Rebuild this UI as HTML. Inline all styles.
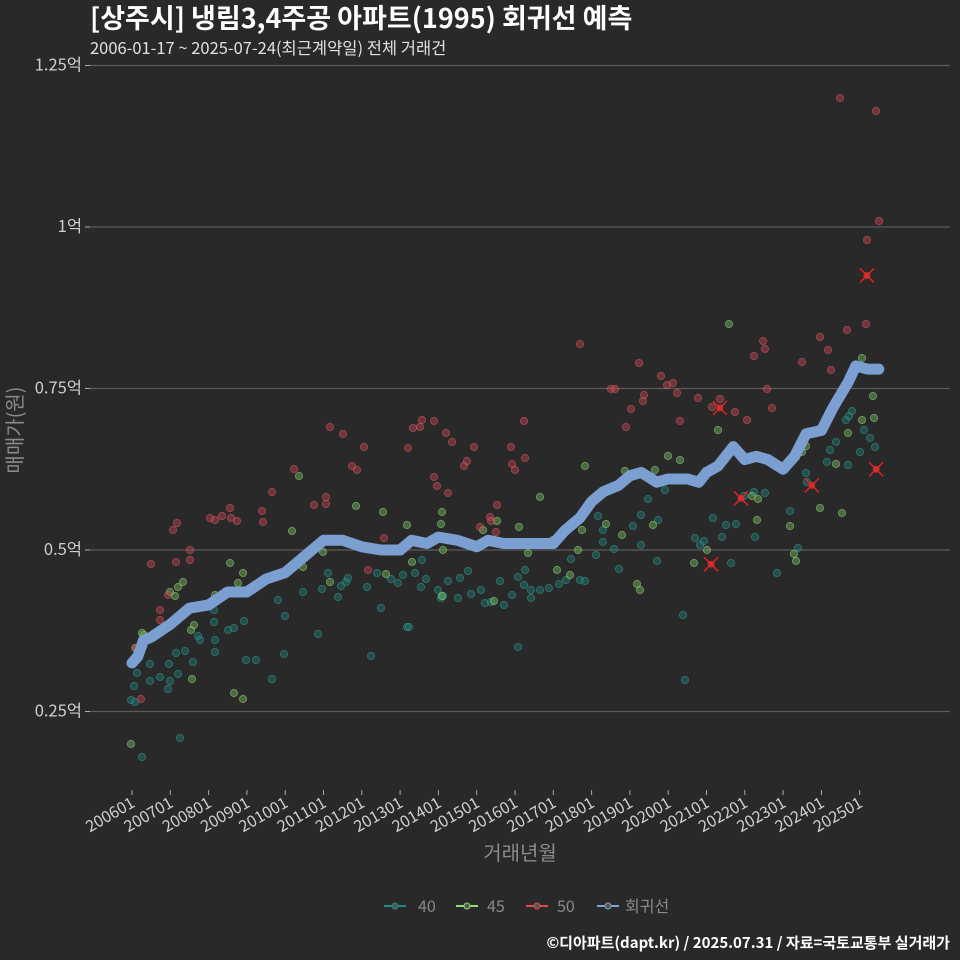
<!DOCTYPE html>
<html><head><meta charset="utf-8"><style>
body{margin:0;background:#2a292a;}
svg{display:block;font-family:"Noto Sans CJK KR","Liberation Sans",sans-serif;}
</style></head><body>
<svg id="chart" width="960" height="960" viewBox="0 0 960 960" xmlns="http://www.w3.org/2000/svg">
<rect width="960" height="960" fill="#2a292a"/>
<text x="90" y="28" fill="#ffffff" font-size="27" font-weight="bold">[상주시] 냉림3,4주공 아파트(1995) 회귀선 예측</text>
<text x="90" y="54" fill="#e0e0e0" font-size="16.5">2006-01-17 ~ 2025-07-24(최근계약일) 전체 거래건</text>
<g id="grid"></g><g id="yaxis"></g><g id="xaxis"></g><g id="pts"></g><g id="reg"></g><g id="cross"></g>
<text transform="translate(22,430) rotate(-90)" text-anchor="middle" fill="#8a8a8a" font-size="20">매매가(원)</text>
<text x="520" y="860" text-anchor="middle" fill="#8a8a8a" font-size="20">거래년월</text>
<g id="legend"></g>
<text x="950" y="948" text-anchor="end" fill="#ffffff" font-size="15" font-weight="bold">©디아파트(dapt.kr) / 2025.07.31 / 자료=국토교통부 실거래가</text>
</svg>
<script>
const yTicks=[0.25,0.5,0.75,1,1.25];
const yTickLabels=["0.25억","0.5억","0.75억","1억","1.25억"];
const xTickYears=[2006,2007,2008,2009,2010,2011,2012,2013,2014,2015,2016,2017,2018,2019,2020,2021,2022,2023,2024,2025];
const xTickLabels=["200601","200701","200801","200901","201001","201101","201201","201301","201401","201501","201601","201701","201801","201901","202001","202101","202201","202301","202401","202501"];
const regYears=[2006.0,2006.15,2006.3,2006.5,2007.0,2007.5,2008.0,2008.5,2009.0,2009.5,2010.0,2010.5,2011.0,2011.5,2012.0,2012.5,2013.0,2013.3,2013.7,2014.0,2014.5,2015.0,2015.3,2015.7,2016.0,2016.5,2017.0,2017.3,2017.7,2018.0,2018.3,2018.7,2019.0,2019.3,2019.7,2020.0,2020.5,2020.8,2021.0,2021.3,2021.7,2022.0,2022.3,2022.6,2023.0,2023.3,2023.6,2024.0,2024.3,2024.7,2024.9,2025.2,2025.5];
const regValues=[0.325,0.335,0.36,0.365,0.385,0.41,0.415,0.435,0.435,0.455,0.465,0.49,0.515,0.515,0.505,0.5,0.5,0.515,0.51,0.52,0.515,0.505,0.515,0.51,0.51,0.51,0.51,0.53,0.55,0.575,0.59,0.6,0.615,0.62,0.605,0.61,0.61,0.605,0.62,0.63,0.66,0.64,0.645,0.64,0.625,0.645,0.68,0.685,0.72,0.76,0.785,0.78,0.78];
const g40x=[131,134,135,142,137,150,150,160,170,168,169,176,180,178,185,193,198,200,215,214,214,215,228,234,244,246,256,272,284,278,285,294,303,318,322,328,338,341,346,348,360,367,371,377,381,391,398,403,407,409,415,421,422,426,438,441,443,448,458,460,468,471,481,485,491,500,504,512,518,518,524,525,531,531,540,549,559,566,571,580,585,596,598,603,603,614,619,633,641,641,648,657,658,665,683,685,695,700,704,713,722,726,731,736,744,754,755,765,777,790,798,806,807,827,830,836,846,848,849,852,860,864,870,875];
const g40y=[700,686,702,757,673,664,681,677,681,689,664,653,738,674,651,662,636,640,640,622,610,652,630,628,621,660,660,679,654,600,616,566,592,634,589,573,597,586,582,578,545,587,656,573,608,579,583,575,627,627,573,587,560,579,590,598,596,581,598,578,571,594,590,603,602,581,605,595,647,577,585,570,590,598,590,588,584,580,559,580,581,555,516,530,542,549,569,526,515,545,499,561,520,490,615,680,538,545,541,518,537,525,563,524,496,492,537,493,573,511,548,473,482,462,450,442,420,465,416,411,452,430,438,447];
const g45x=[131,136,142,144,170,175,178,183,192,191,194,215,230,234,243,243,238,292,299,303,323,330,356,383,386,407,412,442,441,443,442,483,497,494,519,528,540,553,557,570,578,582,585,606,625,622,637,640,655,653,668,680,694,707,718,729,752,758,757,790,794,796,802,806,820,836,842,848,862,862,873,874];
const g45y=[744,648,633,635,592,596,587,582,679,630,625,595,563,693,699,573,583,531,476,567,552,582,506,512,574,525,562,512,524,550,596,530,521,601,527,553,497,540,570,575,550,530,466,524,471,535,584,590,470,525,456,460,563,550,430,324,496,499,520,526,554,561,452,446,508,464,513,433,358,420,396,418];
const g50x=[135,141,151,160,160,168,173,177,176,190,190,210,215,222,230,231,237,262,263,272,294,314,326,326,330,343,352,357,364,368,384,408,413,420,422,434,434,437,446,448,452,464,467,474,480,490,491,496,497,511,512,515,524,525,580,611,615,626,631,639,643,644,647,661,667,673,677,680,698,712,720,735,747,754,763,765,767,772,802,820,828,831,840,847,867,866,876,879];
const g50y=[648,699,564,610,620,595,530,523,562,550,560,518,520,516,508,518,521,511,522,492,469,505,504,497,427,434,466,470,447,570,538,448,428,427,420,421,477,486,433,493,442,466,461,447,527,517,521,532,505,447,464,470,421,458,344,389,389,427,409,363,401,395,475,376,385,383,393,421,398,407,399,412,420,356,341,349,389,408,362,337,350,370,98,330,240,324,111,221];
const toYear=x=>2006+(x-132)/38.3, toVal=y=>0.5+(550-y)/646;
const g40Years=g40x.map(toYear), g40Values=g40y.map(toVal);
const g45Years=g45x.map(toYear), g45Values=g45y.map(toVal);
const g50Years=g50x.map(toYear), g50Values=g50y.map(toVal);
const crossYears=[2021.12,2021.35,2021.9,2023.75,2025.19,2025.43];
const crossValues=[0.478,0.72,0.58,0.6,0.925,0.625];
const X=v=>132+(v-2006)*38.3;
const Y=v=>550-(v-0.5)*646;
const NS="http://www.w3.org/2000/svg";
function mk(t,p,parent){const e=document.createElementNS(NS,t);for(const k in p)e.setAttribute(k,p[k]);document.getElementById(parent).appendChild(e);return e;}
yTicks.forEach((t,i)=>{
 const l=mk('line',{x1:90,x2:950,y1:Y(t),y2:Y(t),stroke:'#5c5c5c','stroke-width':1.2},'grid');
 
 
 const tk=mk('line',{x1:85,x2:90,y1:Y(t),y2:Y(t),stroke:'#aaa'},'yaxis');
 
 
 const tx=mk('text',{x:82,y:Y(t)+5,'text-anchor':'end',fill:'#d0d0d0','font-size':16.5},'yaxis');
 
 
 tx.textContent=yTickLabels[i];
});
xTickYears.forEach((t,i)=>{
 const tk=mk('line',{x1:X(t),x2:X(t),y1:790,y2:795,stroke:'#aaa'},'xaxis');
 
 
 const tx=mk('text',{transform:`translate(${X(t)+4},806) rotate(-30)`,'text-anchor':'end',fill:'#d0d0d0','font-size':16},'xaxis');
 
 
 tx.textContent=xTickLabels[i];
});
function drawPts(xs,vs,fill,stroke,name){
 xs.forEach((x,i)=>{
  const c=mk('circle',{cx:X(x),cy:Y(vs[i]),r:3.6,fill:fill,'fill-opacity':0.45,stroke:stroke,'stroke-opacity':0.5,'stroke-width':1},'pts');
  
  
 });
}
drawPts(g40Years,g40Values,'#1e7a74','#2fa59c','point-40');
drawPts(g45Years,g45Values,'#6fb85a','#9ee07f','point-45');
drawPts(g50Years,g50Values,'#c0444c','#e0606a','point-50');
const reg=mk('polyline',{points:regYears.map((y,i)=>X(y)+','+Y(regValues[i])).join(' '),fill:'none',stroke:'#7b9fd0','stroke-width':11,'stroke-linejoin':'round','stroke-linecap':'round'},'reg');


crossYears.forEach((y,i)=>{
 const cx=X(y),cy=Y(crossValues[i]);
 const p=mk('path',{d:`M${cx-7},${cy-7}L${cx+7},${cy+7}M${cx+7},${cy-7}L${cx-7},${cy+7}`,stroke:'#e02020','stroke-width':1.5},'cross');
 
 
 const c=mk('circle',{cx:cx,cy:cy,r:3.5,fill:'#e03030','fill-opacity':0.8},'cross');
 
 
});
const legendItems=[["40","#1e8a84",384,418],["45","#8fdc6f",456,487],["50","#e04a50",526,557],["회귀선","#7b9fd0",597,625]];
legendItems.forEach(it=>{
 const l=mk('line',{x1:it[2],x2:it[2]+22,y1:906,y2:906,stroke:it[1],'stroke-width':2},'legend');
 
 
 const c=mk('circle',{cx:it[2]+11,cy:906,r:3,fill:'#555',stroke:it[1]},'legend');
 
 
 const t=mk('text',{x:it[3],y:912,fill:'#8a8a8a','font-size':16},'legend');
 
 
 t.textContent=it[0];
});
</script>
</body></html>
